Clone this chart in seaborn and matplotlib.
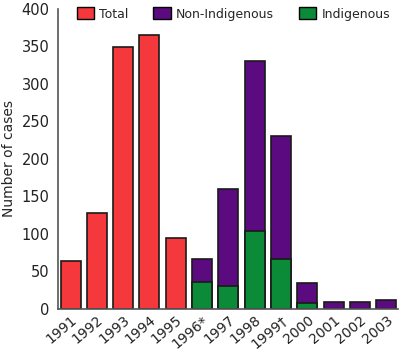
import pandas as pd
import numpy as np
from matplotlib import pyplot as plt
from matplotlib.patches import Patch
import seaborn as sns

# Cases per year
years = ["1991", "1992", "1993", "1994", "1995", "1996*", "1997", "1998",
         "1999\u2020", "2000", "2001", "2002", "2003"]
total_only = [64, 128, 349, 365, 94, np.nan, np.nan, np.nan, np.nan, np.nan, np.nan, np.nan, np.nan]
non_indigenous = [np.nan] * 5 + [30, 130, 227, 164, 27, 10, 10, 12]
indigenous = [np.nan] * 5 + [36, 30, 104, 67, 8, 0, 0, 0]

df = pd.DataFrame({
    "year": years,
    "total": total_only,
    "non_ind": non_indigenous,
    "ind": indigenous,
})
df["stack_top"] = df["non_ind"] + df["ind"]

red = "#f5383c"
purple = "#5b0a80"
green = "#0b8a38"

sns.set_style("white")
plt.rcParams["font.family"] = ["DejaVu Sans"]

fig = plt.figure(figsize=(4, 3.56), dpi=100)
ax = fig.add_axes([0.145, 0.132, 0.85, 0.843])

kw = dict(x="year", order=years, width=0.76, saturation=1, edgecolor="#1a1a1a",
          linewidth=1.2, ax=ax)
sns.barplot(data=df, y="total", color=red, **kw)
sns.barplot(data=df, y="stack_top", color=purple, **kw)
sns.barplot(data=df, y="ind", color=green, **kw)

ax.set_ylim(0, 400)
ax.set_xlim(-0.475, 12.44)
ax.set_yticks(range(0, 401, 50))
ax.set_ylabel("Number of cases", fontsize=10, labelpad=4)
ax.set_xlabel("")
ax.tick_params(axis="y", direction="out", length=4, width=1, labelsize=10.5, pad=2,
               colors="#222222")
ax.tick_params(axis="x", length=0, labelsize=10, pad=3, colors="#222222")
plt.setp(ax.get_xticklabels(), rotation=40, ha="right", rotation_mode="anchor")

for side in ["top", "right"]:
    ax.spines[side].set_visible(False)
for side in ["left", "bottom"]:
    ax.spines[side].set_color("#555555")
    ax.spines[side].set_linewidth(1.2)

handles = [
    Patch(facecolor=red, edgecolor="black", label="Total"),
    Patch(facecolor=purple, edgecolor="black", label="Non-Indigenous"),
    Patch(facecolor=green, edgecolor="black", label="Indigenous"),
]
ax.legend(handles=handles, loc="upper left", bbox_to_anchor=(0.04, 1.022), ncol=3,
          frameon=False, fontsize=9, handlelength=1.4, handleheight=1.1,
          handletextpad=0.4, columnspacing=2.0, borderaxespad=0)

plt.savefig("out.png", dpi=100)
